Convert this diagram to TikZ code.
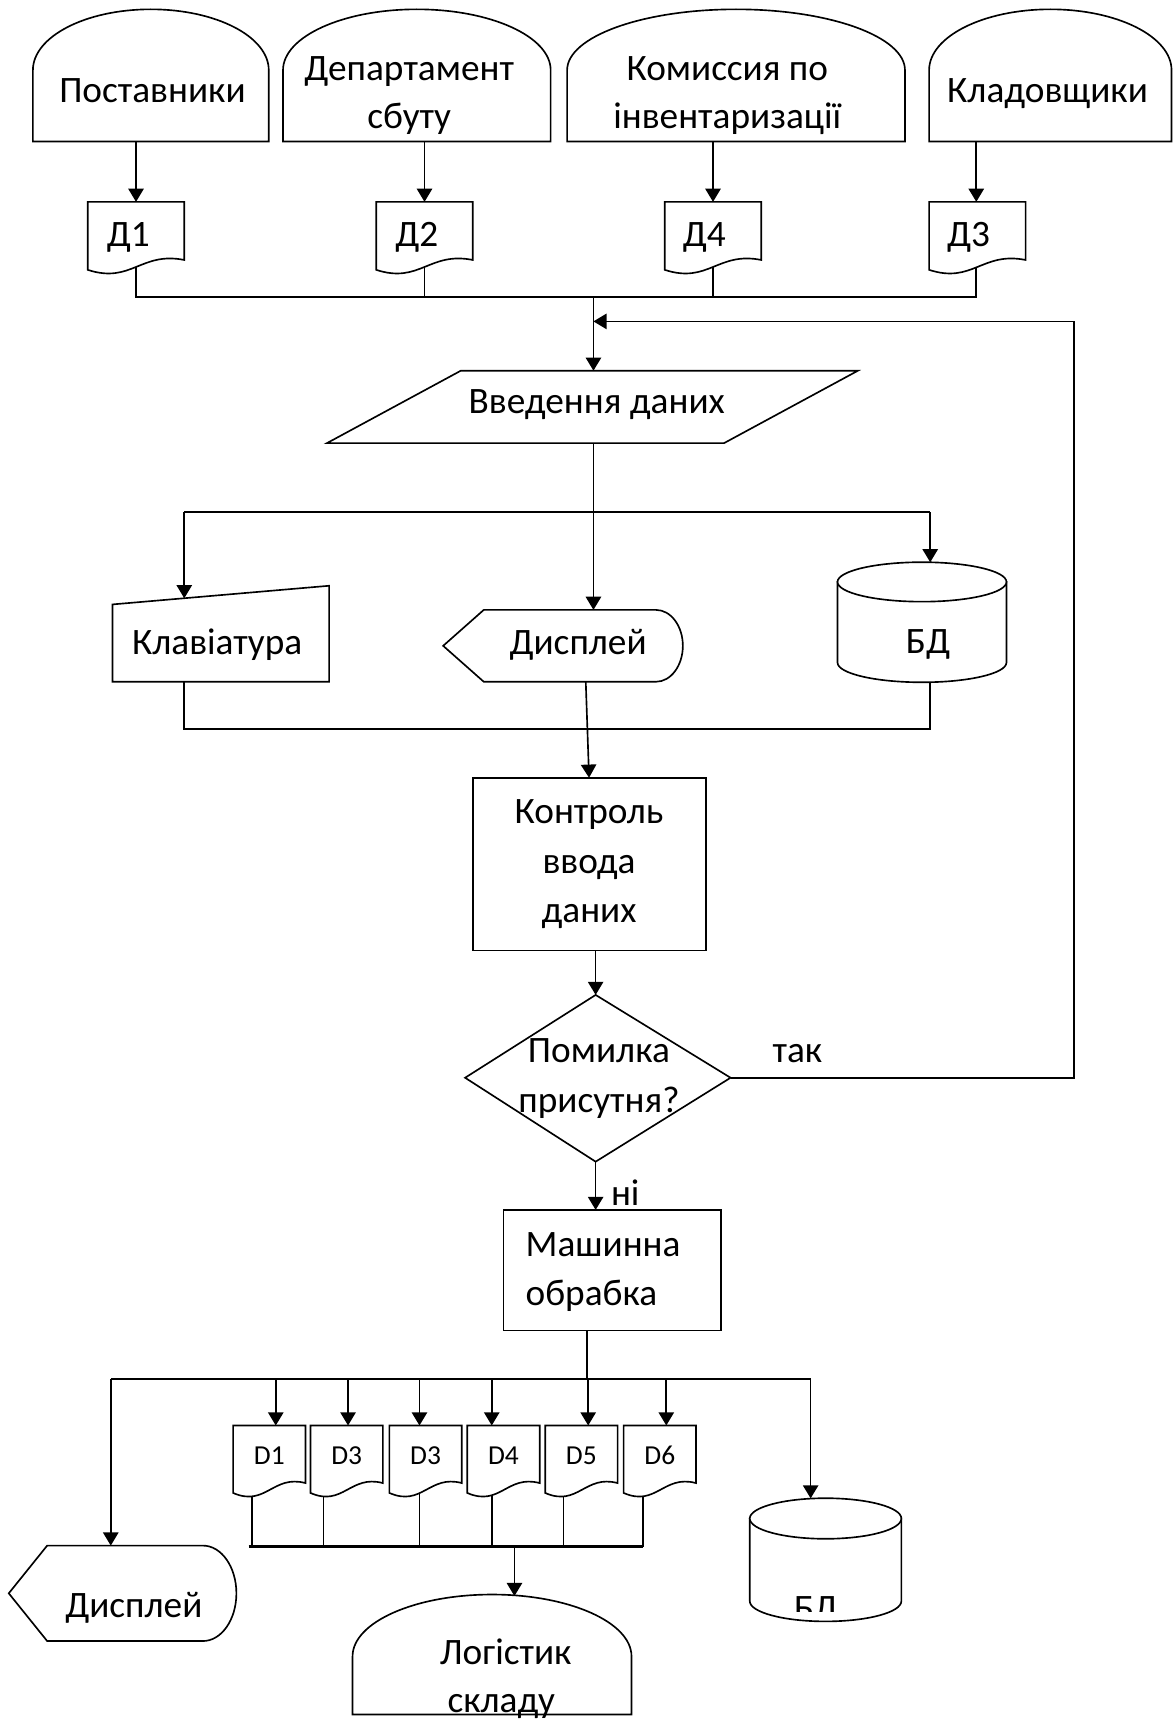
\documentclass[tikz,border=0pt]{standalone}
\usepackage{fontspec}
\setmainfont{Carlito}
\usetikzlibrary{arrows.meta}

\newcommand{\TermShape}[5]{%
 \pgfmathsetmacro\tmcx{(#1+#2)/2}%
 \pgfmathsetmacro\tmrx{(#2-#1)/2}%
 \pgfmathsetmacro\tmh{#4-#3}%
 \draw[shp] (#1,#5) -- (#1,#4) .. controls (#1,{#4-0.5523*\tmh}) and ({\tmcx-0.5523*\tmrx},#3) .. (\tmcx,#3) .. controls ({\tmcx+0.5523*\tmrx},#3) and (#2,{#4-0.5523*\tmh}) .. (#2,#4) -- (#2,#5) -- cycle;}

\newcommand{\DocShape}[4]{%
 \pgfmathsetmacro\dcw{#2-#1}%
 \draw[shp] (#1,#3) -- (#2,#3) -- (#2,#4) .. controls ({#1+0.55*\dcw},{#4-8}) and ({#1+0.45*\dcw},{#4+22}) .. (#1,{#4+9}) -- cycle;}

\newcommand{\CylShape}[5]{%
 \pgfmathsetmacro\cyXc{(#1+#2)/2}%
 \pgfmathsetmacro\cyXr{(#2-#1)/2}%
 \draw[shp] (#1,#3) -- (#1,#4) .. controls (#1,{#4+0.5523*#5}) and ({\cyXc-0.5523*\cyXr},{#4+#5}) .. (\cyXc,{#4+#5}) .. controls ({\cyXc+0.5523*\cyXr},{#4+#5}) and (#2,{#4+0.5523*#5}) .. (#2,#4) -- (#2,#3) -- cycle;
 \draw[shp] (\cyXc,#3) ellipse [x radius=\cyXr, y radius=#5];}

\newcommand{\DispShape}[6]{%
 \pgfmathsetmacro\dsXc{(#4+#5)/2}%
 \pgfmathsetmacro\dsXr{(#5-#4)/2}%
 \draw[shp] (#1,\dsXc) -- (#2,#4) -- (#3,#4) .. controls ({#3+0.5523*#6},#4) and ({#3+#6},{\dsXc-0.5523*\dsXr}) .. ({#3+#6},\dsXc) .. controls ({#3+#6},{\dsXc+0.5523*\dsXr}) and ({#3+0.5523*#6},#5) .. (#3,#5) -- (#2,#5) -- cycle;}

\begin{document}
\begin{tikzpicture}[x=1pt,y=-1pt,
  shp/.style={draw=black,line width=1.5pt,fill=white,line join=miter},
  conn/.style={draw=black,line width=1.5pt},
  arr/.style={conn,-{Triangle[length=12pt,width=14pt]}},
  bigtxt/.style={font=\fontsize{34}{44}\selectfont,inner sep=0pt,anchor=base},
  smalltxt/.style={font=\fontsize{25}{28}\selectfont,inner sep=0pt,anchor=base}]

\useasboundingbox (0,0) rectangle (1069,1568);
\fill[white] (0,0) rectangle (1069,1568);

% ---------- connection points ----------
\coordinate (t1b) at (124,129);  \coordinate (d1t) at (124,184); \coordinate (d1b) at (124,240); \coordinate (bA) at (124,271);
\coordinate (t2b) at (387,129);  \coordinate (d2t) at (387,184); \coordinate (d2b) at (387,240); \coordinate (bB) at (387,271);
\coordinate (t3b) at (650,129);  \coordinate (d4t) at (650,184); \coordinate (d4b) at (650,240); \coordinate (bC) at (650,271);
\coordinate (t4b) at (890,129);  \coordinate (d3t) at (890,184); \coordinate (d3b) at (890,240); \coordinate (bD) at (890,271);
\coordinate (bM) at (541,271);
\coordinate (vvT) at (541,338);  \coordinate (vvB) at (541,404);
\coordinate (loopIn) at (541,293); \coordinate (loopA) at (979,293); \coordinate (loopB) at (979,982.5);
\coordinate (brL) at (168,467);  \coordinate (brR) at (848,467);
\coordinate (klT) at (168,545.4); \coordinate (klB) at (168,621.5);
\coordinate (dsT) at (541,556);  \coordinate (dsB) at (534,621.5);
\coordinate (bdT) at (848,512.6); \coordinate (bdB) at (848,622);
\coordinate (mgL) at (168,664.5); \coordinate (mgR) at (848,664.5);
\coordinate (koT) at (537,709);  \coordinate (koB) at (543,866.5);
\coordinate (dmT) at (543,907);  \coordinate (dmB) at (543,1059); \coordinate (dmR) at (666,982.5);
\coordinate (maT) at (543,1103); \coordinate (maB) at (535,1213);
\coordinate (b2M) at (535,1257); \coordinate (b2L) at (101,1257); \coordinate (b2R) at (739,1257);
\coordinate (ds2T) at (101,1409); \coordinate (bd2T) at (739,1366);
\coordinate (a1) at (251.4,1257); \coordinate (e1T) at (251.4,1299.5);
\coordinate (a2) at (317.3,1257); \coordinate (e2T) at (317.3,1299.5);
\coordinate (a3) at (382.4,1257); \coordinate (e3T) at (382.4,1299.5);
\coordinate (a4) at (448.3,1257); \coordinate (e4T) at (448.3,1299.5);
\coordinate (a5) at (536.2,1257); \coordinate (e5T) at (536.2,1299.5);
\coordinate (a6) at (607.4,1257); \coordinate (e6T) at (607.4,1299.5);
\coordinate (e1B) at (230,1358);   \coordinate (c1) at (230,1410);
\coordinate (e2B) at (295,1358);   \coordinate (c2) at (295,1410);
\coordinate (e3B) at (382.4,1358); \coordinate (c3) at (382.4,1410);
\coordinate (e4B) at (448.4,1358); \coordinate (c4) at (448.4,1410);
\coordinate (e5B) at (513.8,1358); \coordinate (c5) at (513.8,1410);
\coordinate (e6B) at (586,1358);   \coordinate (c6) at (586,1410);
\coordinate (b3L) at (226.6,1410); \coordinate (b3M) at (469,1410);
\coordinate (loT) at (469,1455);

% ---------- connectors ----------
\draw[arr] (t1b) -- (d1t);
\draw[arr] (t2b) -- (d2t);
\draw[arr] (t3b) -- (d4t);
\draw[arr] (t4b) -- (d3t);
\draw[conn] (d1b) -- (bA) -- (bD) -- (d3b);
\draw[conn] (d2b) -- (bB);
\draw[conn] (d4b) -- (bC);
\draw[arr] (bM) -- (vvT);
\draw[arr] (dmR) -- (loopB) -- (loopA) -- (loopIn);
\draw[arr] (vvB) -- (dsT);
\draw[conn] (brL) -- (brR);
\draw[arr] (brL) -- (klT);
\draw[arr] (brR) -- (bdT);
\draw[conn] (klB) -- (mgL) -- (mgR) -- (bdB);
\draw[arr] (dsB) -- (koT);
\draw[arr] (koB) -- (dmT);
\draw[arr] (dmB) -- (maT);
\draw[conn] (maB) -- (b2M);
\draw[conn] (b2L) -- (b2R);
\draw[arr] (b2L) -- (ds2T);
\draw[arr] (b2R) -- (bd2T);
\foreach \i in {1,...,6} {\draw[arr] (a\i) -- (e\i T);}
\foreach \i in {1,...,6} {\draw[conn] (e\i B) -- (c\i);}
\draw[conn,line width=2.6pt] (b3L) -- (c6);
\draw[arr] (b3M) -- (loT);

% ---------- shapes ----------
\TermShape{30}{245}{8.5}{64}{129}
\TermShape{258}{502}{8.5}{64}{129}
\TermShape{517}{825}{8.5}{64}{129}
\TermShape{847}{1068}{8.5}{64}{129}
\DocShape{80}{168}{184}{237}
\DocShape{343}{431}{184}{237}
\DocShape{606}{694}{184}{237}
\DocShape{847}{935}{184}{237}
\draw[shp] (420,338) -- (782,338) -- (660,404) -- (298,404) -- cycle;
\draw[shp] (102.5,551) -- (300,534) -- (300,621.5) -- (102.5,621.5) -- cycle;
\DispShape{404}{441}{598}{556}{621.5}{24.5}
\CylShape{763.5}{917.5}{530.5}{604}{18}
\draw[shp] (431,709) rectangle (643.5,866.5);
\draw[shp] (543,907) -- (666,982.5) -- (543,1059) -- (424,982.5) -- cycle;
\draw[shp] (459,1103) rectangle (657,1213);
\DocShape{212.5}{278.5}{1299.5}{1352}
\DocShape{283}{349}{1299.5}{1352}
\DocShape{355}{421}{1299.5}{1352}
\DocShape{426}{492}{1299.5}{1352}
\DocShape{497}{563}{1299.5}{1352}
\DocShape{568.5}{634.5}{1299.5}{1352}
\DispShape{8}{43}{185}{1409}{1496}{30.5}
\CylShape{683.5}{821.7}{1384.3}{1459.6}{18.5}
\TermShape{321.4}{575.7}{1453.6}{1510}{1563}

% ---------- texts ----------
\node[bigtxt] (tx1) at (139,93) {Поставники};
\node[bigtxt] (tx2a) at (373,73) {Департамент};
\node[bigtxt] (tx2b) at (373,116.7) {сбуту};
\node[bigtxt] (tx3a) at (663,73) {Комиссия по};
\node[bigtxt] (tx3b) at (663,116.7) {інвентаризації};
\node[bigtxt] (tx4) at (955,93) {Кладовщики};
\node[bigtxt] (dd1) at (117,225) {Д1};
\node[bigtxt] (dd2) at (380,225) {Д2};
\node[bigtxt] (dd4) at (642,225) {Д4};
\node[bigtxt] (dd3) at (883,225) {Д3};
\node[bigtxt] (vv) at (544,377.3) {Введення даних};
\node[bigtxt] (kl) at (198,597) {Клавіатура};
\node[bigtxt] (ds) at (527,597) {Дисплей};
\node[bigtxt] (bd) at (846,596) {БД};
\node[bigtxt] (ko1) at (537,751) {Контроль};
\node[bigtxt] (ko2) at (537,796.5) {ввода};
\node[bigtxt] (ko3) at (537,841) {даних};
\node[bigtxt] (dm1) at (546,968.5) {Помилка};
\node[bigtxt] (dm2) at (546,1014.5) {присутня?};
\node[bigtxt] (tak) at (727,968.5) {так};
\node[bigtxt] (ni) at (570,1099) {ні};
\node[bigtxt,anchor=base west] (ma1) at (479,1145.8) {Машинна};
\node[bigtxt,anchor=base west] (ma2) at (479,1190.2) {обрабка};
\node[smalltxt] (f1) at (245.5,1335) {D1};
\node[smalltxt] (f2) at (316,1335) {D3};
\node[smalltxt] (f3) at (388,1335) {D3};
\node[smalltxt] (f4) at (459,1335) {D4};
\node[smalltxt] (f5) at (530,1335) {D5};
\node[smalltxt] (f6) at (601.5,1335) {D6};
\node[bigtxt] (ds2) at (122,1474.8) {Дисплей};
\begin{scope}
  \clip (684,1440) rectangle (821,1469);
  \node[bigtxt] (bd2) at (744,1477) {БД};
\end{scope}
\node[bigtxt] (lo1) at (461,1517.4) {Логістик};
\node[bigtxt] (lo2) at (457,1561.2) {складу};
\end{tikzpicture}
\end{document}
